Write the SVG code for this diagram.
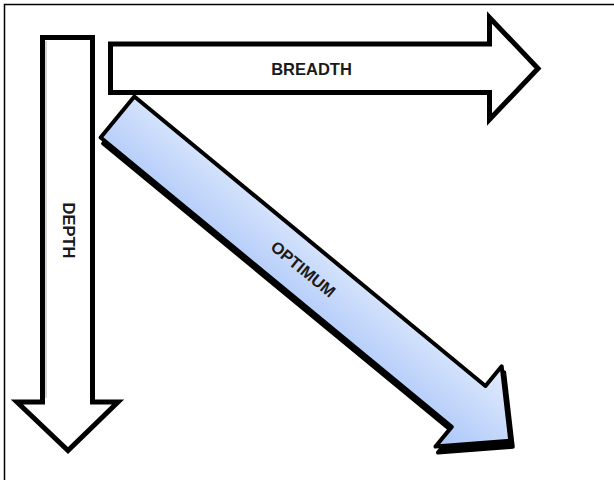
<svg xmlns="http://www.w3.org/2000/svg" width="614" height="480" viewBox="0 0 614 480">
  <defs>
    <linearGradient id="blueGrad" x1="0" y1="1" x2="0" y2="0">
      <stop offset="0" stop-color="#a9c5f9"/>
      <stop offset="1" stop-color="#e2ecfd"/>
    </linearGradient>
  </defs>
  <style>
    .arrow { fill: #ffffff; stroke: #000000; stroke-width: 5; stroke-linejoin: miter; }
    .inner { fill: none; stroke: #c8c8c8; stroke-width: 1.5; }
    .opt { fill: url(#blueGrad); stroke: #000000; stroke-width: 4; stroke-linejoin: round; }
    .shadow { fill: #000000; stroke: #000000; stroke-width: 4; stroke-linejoin: round; }
    .label { font-family: "Liberation Sans", Arial, sans-serif; font-weight: bold; font-size: 16.5px; fill: #1a1a1a; text-anchor: middle; }
  </style>
  <rect width="614" height="480" fill="#ffffff"/>
  <path d="M4.5 480 V4.5 H614" fill="none" stroke="#000000" stroke-width="1.5"/>

  <g id="depth">
    <polygon class="arrow" points="42.5,37.5 92.5,37.5 92.5,402 118,402 68,450.5 17,402 42.5,402"/>
    <line class="inner" x1="46" y1="41" x2="46" y2="398"/>
    <text class="label" transform="translate(62.5,230.5) rotate(90)">DEPTH</text>
  </g>

  <g id="breadth">
    <polygon class="arrow" points="110.5,44 489.5,44 489.5,17.5 538,68.5 489.5,119.5 489.5,92.5 110.5,92.5"/>
    <text class="label" x="311.5" y="75">BREADTH</text>
  </g>

  <g id="optimum">
    <g transform="translate(120,123) rotate(39.5)">
      <polygon class="shadow" points="0,-26.5 455,-26.5 455,-52 509,0 455,52 455,26.5 0,26.5"/>
    </g>
    <g transform="translate(117.5,117) rotate(39.5)">
      <polygon class="opt" points="0,-26.5 455,-26.5 455,-52 509,0 455,52 455,26.5 0,26.5"/>
      <text class="label" x="240" y="5" font-size="17">OPTIMUM</text>
    </g>
  </g>
</svg>
